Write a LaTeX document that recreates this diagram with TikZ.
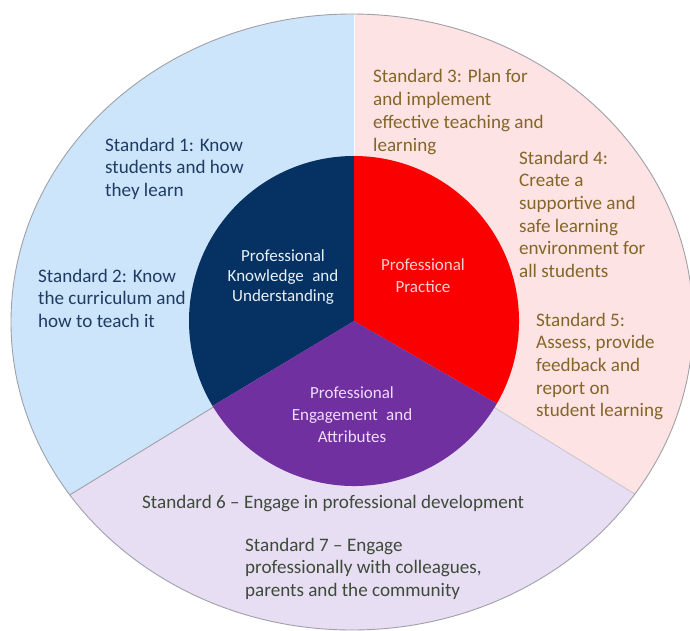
\documentclass[tikz,border=0pt]{standalone}
\usepackage{fontspec}
\setmainfont{Carlito}
\definecolor{lblue}{RGB}{205,229,250}
\definecolor{lpink}{RGB}{253,227,227}
\definecolor{llav}{RGB}{232,222,243}
\definecolor{navy}{RGB}{5,50,98}
\definecolor{pred}{RGB}{250,0,0}
\definecolor{ppurple}{RGB}{112,48,160}
\definecolor{tone}{RGB}{31,60,100}
\definecolor{ttwo}{RGB}{133,102,40}
\definecolor{tthree}{RGB}{62,74,58}
\definecolor{edgegray}{RGB}{160,160,168}
\definecolor{tpku}{RGB}{232,240,250}
\definecolor{tpp}{RGB}{255,208,208}
\definecolor{tpea}{RGB}{240,220,255}
\tikzset{
  stdtext/.style={anchor=base west,inner sep=0pt,align=left,font=\fontsize{19.1}{22.7}\selectfont},
  coretext/.style={anchor=base,inner sep=0pt,align=center,font=\fontsize{17}{21.7}\selectfont},
  divider/.style={draw=edgegray,line width=0.9pt}
}
\begin{document}
\begin{tikzpicture}[x=1pt,y=-1pt]
\useasboundingbox (0,0) rectangle (690,631);
\begin{scope}[shift={(354,321)},yscale=-1]
  % outer ring
  \begin{scope}
    \clip (-2,-1) ellipse [x radius=341, y radius=308];
    \fill[llav] (-400,-400) rectangle (400,400);
    \fill[lblue] (0,0) -- (0,400) -- (-500,400) -- (-572,-350) -- cycle;
    \fill[lpink] (0,0) -- (0,400) -- (500,400) -- (568,-350) -- cycle;
    \coordinate (C) at (0,0);
    \coordinate (PL) at (-286,-175);
    \coordinate (PR) at (284,-175);
    \coordinate (PT) at (0,310);
    \draw[divider] (C) -- (PL);
    \draw[draw=edgegray!60,line width=0.8pt] (C) -- (PR);
    \draw[draw=white!85!lpink,line width=0.9pt] (C) -- (PT);
  \end{scope}
  \draw[edgegray,line width=0.9pt] (-2,-1) ellipse [x radius=341, y radius=308];
  % inner pie
  \fill[navy] (0,0) -- (90:165) arc[start angle=90,end angle=211,radius=165] -- cycle;
  \fill[pred] (0,0) -- (-30:165) arc[start angle=-30,end angle=90,radius=165] -- cycle;
  \fill[ppurple] (0,0) -- (211:165) arc[start angle=211,end angle=330,radius=165] -- cycle;
\end{scope}
% core labels (anchored at the baseline of the last line)
\node[coretext,text=tpku,font=\fontsize{17}{19.8}\selectfont] (pku) at (283,301) {Professional\\Knowledge\enspace and\\Understanding};
\node[coretext,text=tpp] (pp) at (423,292) {Professional\\Practice};
\node[coretext,text=tpea] (pea) at (352,442) {Professional\\Engagement\enspace and\\Attributes};
% standards (anchored at the baseline of the last line)
\node[stdtext,text=tone] (s1) at (105,196.4) {Standard 1: Know\\students and how\\they learn};
\node[stdtext,text=tone] (s2) at (38,327.4) {Standard 2: Know\\the curriculum and\\how to teach it};
\node[stdtext,text=ttwo] (s3) at (373,151.1) {Standard 3: Plan for\\and implement\\effective teaching and\\learning};
\node[stdtext,text=ttwo] (s4) at (519,277.5) {Standard 4:\\Create a\\supportive and\\safe learning\\environment for\\all students};
\node[stdtext,text=ttwo] (s5) at (536,416.8) {Standard 5:\\Assess, provide\\feedback and\\report on\\student learning};
\node[stdtext,text=tthree] (s6) at (142,508) {Standard 6 -- Engage in professional development};
\node[stdtext,text=tthree] (s7) at (245,596.4) {Standard 7 -- Engage\\professionally with colleagues,\\parents and the community};
\end{tikzpicture}
\end{document}
